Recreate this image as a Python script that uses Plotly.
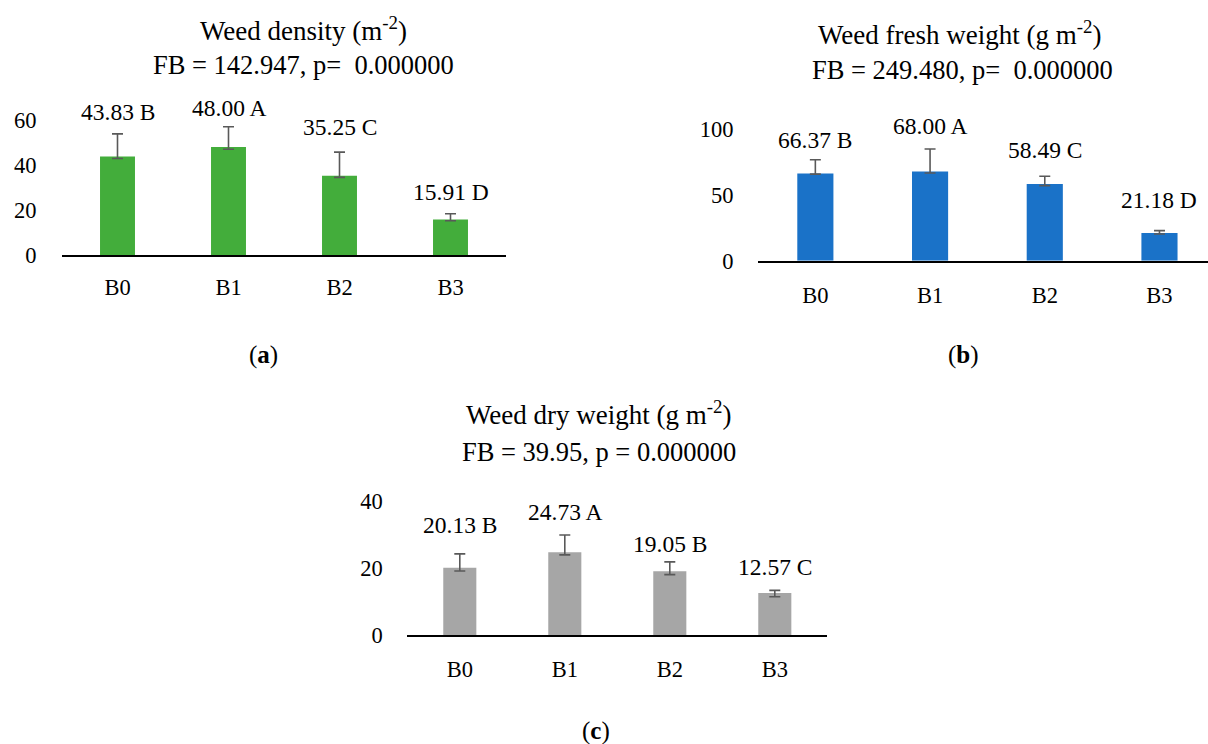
import plotly.graph_objects as go

W, H = 1208, 744

categories = ["B0", "B1", "B2", "B3"]

# Panel (a) Weed density
density = [43.83, 48.00, 35.25, 15.91]
density_err_plus = [10.0, 9.0, 10.5, 2.5]
density_err_minus = [0.9, 1.0, 0.7, 0.6]
density_letters = ["B", "A", "C", "D"]

# Panel (b) Weed fresh weight
fresh = [66.37, 68.00, 58.49, 21.18]
fresh_err_plus = [10.5, 17.1, 5.8, 1.7]
fresh_err_minus = [0.4, 1.2, 1.3, 0.9]
fresh_letters = ["B", "A", "C", "D"]

# Panel (c) Weed dry weight
dry = [20.13, 24.73, 19.05, 12.57]
dry_err_plus = [4.1, 5.1, 2.8, 0.8]
dry_err_minus = [1.0, 0.8, 1.0, 1.1]
dry_letters = ["B", "A", "B", "C"]

y_ticks_a = [0, 20, 40, 60]
y_ticks_b = [0, 50, 100]
y_ticks_c = [0, 20, 40]

FONT = "Liberation Serif"
FS_TITLE = 27
FS_SUB = 26.5
FS_LABEL = 23.5
FS_TICK = 22.5

def px_x(p):
    return p / W

def px_y(p):
    return 1 - p / H

fig = go.Figure()

panels = [
    dict(vals=density, ep=density_err_plus, em=density_err_minus, let=density_letters,
         color="#43AD3B", xdom=(62, 506), xr=[-0.5, 3.5], y0=255.3, ppu=2.255, yr=[0, 70],
         ticks=y_ticks_a, shifts=[22, 19, 25, 22], ax="", tl=11, ytl=20),
    dict(vals=fresh, ep=fresh_err_plus, em=fresh_err_minus, let=fresh_letters,
         color="#1A72C8", xdom=(758, 1208), xr=[-0.5, 3.423], y0=260.7, ppu=1.313, yr=[0, 110],
         ticks=y_ticks_b, shifts=[20, 23, 26, 31], ax="2", tl=13, ytl=19),
    dict(vals=dry, ep=dry_err_plus, em=dry_err_minus, let=dry_letters,
         color="#A6A6A6", xdom=(407.3, 827.3), xr=[-0.5, 3.5], y0=635.3, ppu=3.36, yr=[0, 45],
         ticks=y_ticks_c, shifts=[29, 23, 18, 23], ax="3", tl=13, ytl=19),
]

annotations = []
for p in panels:
    xa = "x" + p["ax"]
    ya = "y" + p["ax"]
    fig.add_trace(go.Bar(
        x=categories, y=p["vals"], xaxis=xa, yaxis=ya,
        marker=dict(color=p["color"], line=dict(width=0)),
        width=0.315,
        error_y=dict(type="data", symmetric=False, array=p["ep"], arrayminus=p["em"],
                     color="#595959", thickness=1.6, width=5.5),
        showlegend=False, hoverinfo="skip",
    ))
    top_px = p["y0"] - p["yr"][1] * p["ppu"]
    xd = [max(0.0, px_x(p["xdom"][0])), min(1.0, px_x(p["xdom"][1]))]
    yd = [px_y(p["y0"]), px_y(top_px)]
    xkey = "xaxis" + p["ax"]
    ykey = "yaxis" + p["ax"]
    fig.update_layout(**{
        xkey: dict(domain=xd, range=p["xr"], anchor=ya, showline=True, linecolor="black",
                   linewidth=1.6, ticks="outside", ticklen=p["tl"], tickcolor="rgba(0,0,0,0)",
                   showgrid=False, zeroline=False, fixedrange=True, automargin=False,
                   tickfont=dict(family=FONT, size=FS_TICK, color="black")),
        ykey: dict(domain=yd, range=p["yr"], anchor=xa, showline=False, showgrid=False,
                   zeroline=False, tickvals=p["ticks"], ticks="outside", ticklen=p["ytl"],
                   tickcolor="rgba(0,0,0,0)", fixedrange=True, automargin=False,
                   tickfont=dict(family=FONT, size=FS_TICK, color="black")),
    })
    for i, c in enumerate(categories):
        annotations.append(dict(
            x=c, y=p["vals"][i] + p["ep"][i], xref=xa, yref=ya,
            text=f"{p['vals'][i]:.2f} {p['let'][i]}", showarrow=False,
            yanchor="middle", xanchor="center", yshift=p["shifts"][i],
            font=dict(family=FONT, size=FS_LABEL, color="black"),
        ))

titles = [
    ("Weed density (m<sup>-2</sup>)", 303, 29, FS_TITLE),
    ("FB = 142.947, p=\u00a0 0.000000", 303, 65, FS_SUB),
    ("Weed fresh weight (g m<sup>-2</sup>)", 960, 33, FS_TITLE),
    ("FB = 249.480, p=\u00a0 0.000000", 962, 70, FS_SUB),
    ("Weed dry weight (g m<sup>-2</sup>)", 599, 413, FS_TITLE),
    ("FB = 39.95, p = 0.000000", 599, 452, FS_SUB),
    ("(<b>a</b>)", 263, 355, 25),
    ("(<b>b</b>)", 963, 355, 25),
    ("(<b>c</b>)", 596, 731, 25),
]
for t, x, y, fs in titles:
    annotations.append(dict(
        text=t, x=px_x(x), y=px_y(y), xref="paper", yref="paper",
        xanchor="center", yanchor="middle", showarrow=False,
        font=dict(family=FONT, size=fs, color="black"),
    ))

fig.update_layout(
    width=W, height=H, margin=dict(l=0, r=0, t=0, b=0, autoexpand=False),
    paper_bgcolor="white", plot_bgcolor="white", showlegend=False,
    annotations=annotations, bargap=0.5,
)

fig.write_html(
    "out.html",
    config={"displayModeBar": False},
    post_script="document.body.style.margin='0';document.body.style.padding='0';",
)
